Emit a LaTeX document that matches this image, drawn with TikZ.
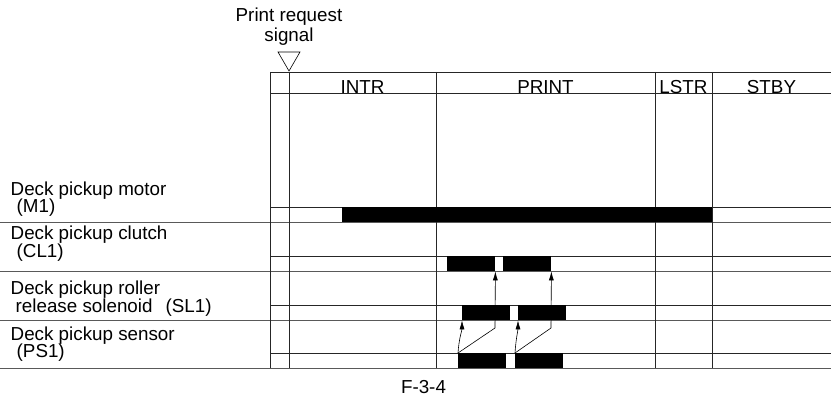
\documentclass[tikz,border=0pt]{standalone}
\usepackage{fontspec}
\setmainfont{Liberation Sans}
\usetikzlibrary{arrows.meta}
\tikzset{
    gridln/.style={line width=0.9pt, color=black!85},
    sepln/.style={line width=0.9pt, color=black!65},
    phaselbl/.style={font=\fontsize{18.8}{20}\selectfont, anchor=base, inner sep=0pt},
    rowlbl/.style={font=\fontsize{18.8}{20}\selectfont, anchor=base west, inner sep=0pt},
    onbar/.style={rectangle, fill=black, inner sep=0pt, minimum height=15pt, minimum width=48pt, anchor=north west},
    trig/.style={-{Latex[length=9pt, width=5pt]}, line width=0.6pt},
    trigline/.style={line width=0.6pt}
}

\begin{document}
\begin{tikzpicture}[x=1pt, y=-1pt]
    \useasboundingbox (0,0) rectangle (831,398);
    % table frame
    \draw[gridln] (270,72) -- (831,72);
    \draw[gridln] (270,93) -- (831,93);
    \foreach \y in {207,256,305,353} \draw[gridln] (270,\y) -- (831,\y);
    \foreach \y in {222,271,320,368} \draw[sepln] (0,\y) -- (831,\y);
    \foreach \x in {270,289,436,655,712} \draw[gridln] (\x,72) -- (\x,368);
    % print request marker
    \node[phaselbl] at (289,22) (req) {Print request};
    \node[phaselbl] at (289,42) (sig) {signal};
    \draw[line width=0.6pt] (278,52) -- (300,52) -- (289,71) -- cycle;
    \node[phaselbl] at (362.5,93.5) (intr) {INTR};
    \node[phaselbl] at (545.5,93.5) (print) {PRINT};
    \node[phaselbl] at (683.5,93.5) (lstr) {LSTR};
    \node[phaselbl] at (771.5,93.5) (stby) {STBY};
    % signal names
    \node[rowlbl] at (10.5,196) (m1a) {Deck pickup motor};
    \node[rowlbl] at (10.5,213) (m1b) {\hspace{6pt}(M1)};
    \node[rowlbl] at (10.5,240) (cl1a) {Deck pickup clutch};
    \node[rowlbl] at (10.5,258) (cl1b) {\hspace{6pt}(CL1)};
    \node[rowlbl] at (10.5,295) (sl1a) {Deck pickup roller};
    \node[rowlbl] at (10.5,313) (sl1b) {\hspace{5pt}release solenoid\hspace{13pt}(SL1)};
    \node[rowlbl] at (10.5,341) (ps1a) {Deck pickup sensor};
    \node[rowlbl] at (10.5,358) (ps1b) {\hspace{6pt}(PS1)};
    % on periods
    \node[onbar, minimum width=370pt] at (342,207) (m1) {};
    \node[onbar] at (447,256) (c1) {};
    \node[onbar] at (503,256) (c2) {};
    \node[onbar] at (462,305) (s1) {};
    \node[onbar] at (518,305) (s2) {};
    \node[onbar] at (458,353) (p1) {};
    \node[onbar] at (515,353) (p2) {};
    \coordinate (k1) at (495,328);
    \coordinate (k2) at (551,328);
    \draw[trig] (p1.north west) .. controls +(1,-15) and +(0,10) .. (s1.south west);
    \draw[trigline] (p1.north west) -- (k1);
    \draw[trig] (k1) -- (c1.south east);
    \draw[trig] (p2.north west) .. controls +(1,-15) and +(0,10) .. (s2.south west);
    \draw[trigline] (p2.north west) -- (k2);
    \draw[trig] (k2) -- (c2.south east);
    \node[phaselbl] at (423.5,393) (fig) {F-3-4};
\end{tikzpicture}
\end{document}
